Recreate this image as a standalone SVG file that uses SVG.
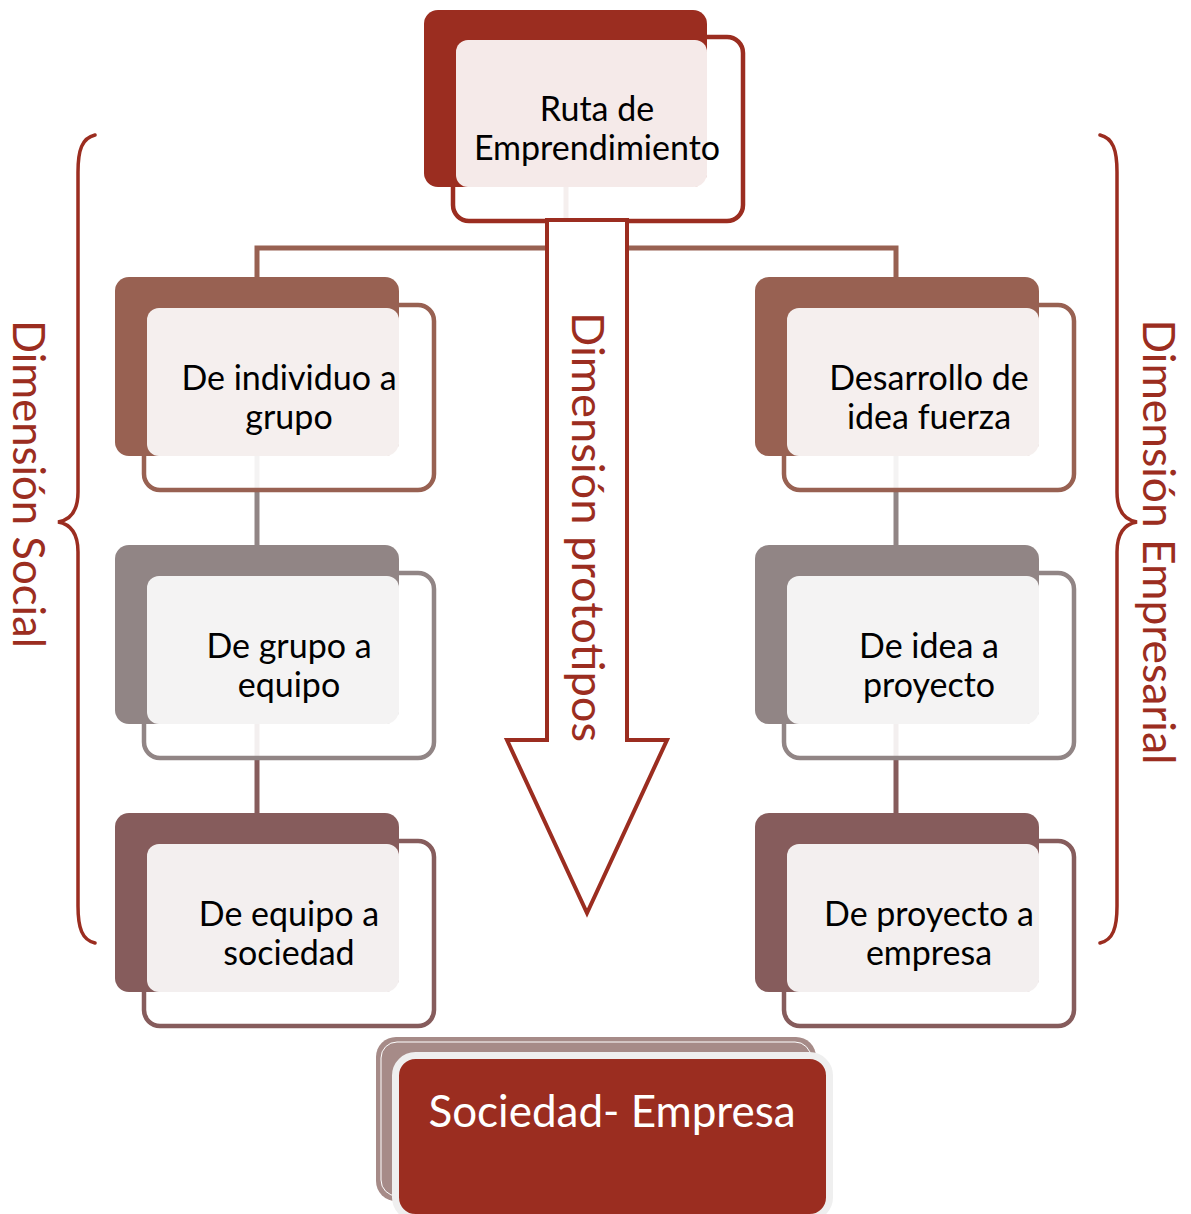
<svg xmlns="http://www.w3.org/2000/svg" width="1191" height="1214" viewBox="0 0 1191 1214">
<style>
.front{fill:#fff;fill-opacity:0.9;stroke-width:4.5}
.light{fill:#fff;fill-opacity:0.9}
.t{font-family:Lato,"Open Sans","Liberation Sans",sans-serif;font-size:34px;fill:#000;text-anchor:middle}
.lab{font-family:Lato,"Open Sans","Liberation Sans",sans-serif;font-size:44px;fill:#9b2d20;text-anchor:middle}
.con{fill:none;stroke-width:5}
.brace{fill:none;stroke:#9b2d20;stroke-width:3.5;stroke-linecap:round}
</style>
<rect width="1191" height="1214" fill="#fff"/>
<g id="connectors">
<path class="con" stroke="#986152" d="M257 277 V248 H896 V277 M566 187 V248"/>
<path class="con" stroke="#918585" d="M257 456 V545 M896 456 V545"/>
<path class="con" stroke="#865c5c" d="M257 723 V813 M896 723 V813"/>
</g>
<g id="n-top">
<rect class="front" x="453" y="37" width="290" height="184" rx="16" stroke="#9b2d20"/>
<rect x="424" y="10" width="283" height="177" rx="14" fill="#9b2d20"/>
<rect class="light" x="456" y="40" width="251" height="147" rx="12"/>
<text class="t" x="597" y="121">Ruta de</text>
<text class="t" x="597" y="160">Emprendimiento</text>
</g>
<g id="n-l1">
<rect class="front" x="144" y="305" width="290" height="185" rx="16" stroke="#986152"/>
<rect x="115" y="277" width="284" height="179" rx="14" fill="#986152"/>
<rect class="light" x="147" y="308" width="252" height="148" rx="12"/>
<text class="t" x="289" y="390">De individuo a</text>
<text class="t" x="289" y="429">grupo</text>
</g>
<g id="n-l2">
<rect class="front" x="144" y="573" width="290" height="185" rx="16" stroke="#918585"/>
<rect x="115" y="545" width="284" height="179" rx="14" fill="#918585"/>
<rect class="light" x="147" y="576" width="252" height="148" rx="12"/>
<text class="t" x="289" y="658">De grupo a</text>
<text class="t" x="289" y="697">equipo</text>
</g>
<g id="n-l3">
<rect class="front" x="144" y="841" width="290" height="185" rx="16" stroke="#865c5c"/>
<rect x="115" y="813" width="284" height="179" rx="14" fill="#865c5c"/>
<rect class="light" x="147" y="844" width="252" height="148" rx="12"/>
<text class="t" x="289" y="926">De equipo a</text>
<text class="t" x="289" y="965">sociedad</text>
</g>
<g id="n-r1">
<rect class="front" x="784" y="305" width="290" height="185" rx="16" stroke="#986152"/>
<rect x="755" y="277" width="284" height="179" rx="14" fill="#986152"/>
<rect class="light" x="787" y="308" width="252" height="148" rx="12"/>
<text class="t" x="929" y="390">Desarrollo de</text>
<text class="t" x="929" y="429">idea fuerza</text>
</g>
<g id="n-r2">
<rect class="front" x="784" y="573" width="290" height="185" rx="16" stroke="#918585"/>
<rect x="755" y="545" width="284" height="179" rx="14" fill="#918585"/>
<rect class="light" x="787" y="576" width="252" height="148" rx="12"/>
<text class="t" x="929" y="658">De idea a</text>
<text class="t" x="929" y="697">proyecto</text>
</g>
<g id="n-r3">
<rect class="front" x="784" y="841" width="290" height="185" rx="16" stroke="#865c5c"/>
<rect x="755" y="813" width="284" height="179" rx="14" fill="#865c5c"/>
<rect class="light" x="787" y="844" width="252" height="148" rx="12"/>
<text class="t" x="929" y="926">De proyecto a</text>
<text class="t" x="929" y="965">empresa</text>
</g>
<g id="arrow">
<path d="M547 220 H627 V740 H667 L587 913 L507 740 H547 Z" fill="#fff" stroke="#9b2d20" stroke-width="4"/>
<text class="lab" transform="translate(572,527) rotate(90)" textLength="430" lengthAdjust="spacingAndGlyphs">Dimensión prototipos</text>
</g>
<g id="brace-left">
<path class="brace" d="M95 135 C82 138 78 150 78 172 V492 C78 512 70 520 58 522 C70 524 78 532 78 552 V906 C78 928 82 940 95 943"/>
<text class="lab" transform="translate(13,484) rotate(90)" textLength="328" lengthAdjust="spacingAndGlyphs">Dimensión Social</text>
</g>
<g id="brace-right">
<path class="brace" d="M1100 135 C1113 138 1117 150 1117 172 V492 C1117 512 1125 520 1137 522 C1125 524 1117 532 1117 552 V906 C1117 928 1113 940 1100 943"/>
<text class="lab" transform="translate(1143,542) rotate(90)" textLength="445" lengthAdjust="spacingAndGlyphs">Dimensión Empresarial</text>
</g>
<g id="n-bottom">
<rect x="376" y="1037" width="440" height="164" rx="20" fill="#a68b88"/>
<rect x="381" y="1042" width="430" height="154" rx="16" fill="none" stroke="#fff" stroke-width="1"/>
<rect x="395.5" y="1055.5" width="434" height="162" rx="20" fill="#9b2d20" stroke="#efefef" stroke-width="7"/>
<text x="612" y="1127" font-family="Lato,'Open Sans','Liberation Sans',sans-serif" font-size="44" fill="#fff" text-anchor="middle">Sociedad- Empresa</text>
</g>
</svg>
